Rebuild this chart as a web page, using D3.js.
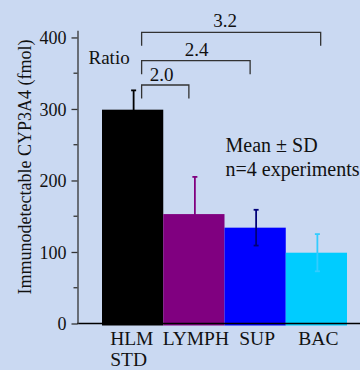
<!DOCTYPE html>
<html>
<head>
<meta charset="utf-8">
<script src="https://cdn.jsdelivr.net/npm/d3@7"></script>
<style>
  html, body { margin: 0; padding: 0; background: #cad9f2; }
  svg { display: block; }
  svg text { font-family: "Liberation Serif", "Times New Roman", serif !important; fill: #111; }
</style>
</head>
<body>
<svg id="chart" width="360" height="370" font-family="Liberation Serif"></svg>
<script>
// ---- data ----
const categories = ["HLM STD", "LYMPH", "SUP", "BAC"];
const means = [299, 153, 134, 99];
const sds = [27, 52, 25, 26];
const yTicks = [0, 100, 200, 300, 400];
const yMinorTicks = [50, 150, 250, 350];
const ratioLabels = ["2.0", "2.4", "3.2"];
const ratioTargets = ["LYMPH", "SUP", "BAC"];

// ---- styling / layout ----
const barColors = ["#000000", "#800080", "#0000ff", "#00ccff"];
const errColors = ["#000000", "#800080", "#00007a", "#33ccff"];
const SERIF = "Liberation Serif";

const svg = d3.select("#chart");
const W = 360, H = 370;

svg.append("rect").attr("width", W).attr("height", H).attr("fill", "#cad9f2");

const y = d3.scaleLinear().domain([0, 410]).range([323.5, 30.3]);
const x = d3.scaleBand().domain(categories).range([102, 347]).padding(0);

// bars
svg.selectAll("rect.bar").data(categories).join("rect")
  .attr("class", "bar")
  .attr("x", d => x(d))
  .attr("width", x.bandwidth())
  .attr("y", (d, i) => y(means[i]))
  .attr("height", (d, i) => y(0) - y(means[i]) + 2)
  .attr("fill", (d, i) => barColors[i]);

// error bars
const eg = svg.append("g");
categories.forEach((c, i) => {
  const cx = x(c) + x.bandwidth() / 2 + 1;
  const top = y(means[i] + sds[i]), bot = y(means[i] - sds[i]);
  eg.append("line").attr("x1", cx).attr("x2", cx).attr("y1", top).attr("y2", bot)
    .attr("stroke", errColors[i]).attr("stroke-width", 1.8);
  [top, bot].forEach(yy => {
    eg.append("line").attr("x1", cx - 2.5).attr("x2", cx + 2.5).attr("y1", yy).attr("y2", yy)
      .attr("stroke", errColors[i]).attr("stroke-width", 1.8);
  });
});

// baseline
svg.append("line").attr("x1", 77).attr("x2", W).attr("y1", y(0)).attr("y2", y(0))
  .attr("stroke", "#000").attr("stroke-width", 1.5);

// y axis
const axis = svg.append("g").attr("transform", "translate(77.5,0)")
  .call(d3.axisLeft(y).tickValues(yTicks).tickSize(6).tickSizeOuter(0).tickPadding(5));
axis.attr("font-family", SERIF).attr("font-size", 18);
axis.select(".domain").attr("stroke", "#333").attr("stroke-width", 1.3);
axis.selectAll(".tick line").attr("stroke", "#333").attr("stroke-width", 1.3);
axis.selectAll(".tick text")
  .attr("font-family", SERIF)
  .attr("font-size", 18).attr("fill", "#111").attr("dy", "0.34em");
svg.append("g").selectAll("line").data(yMinorTicks).join("line")
  .attr("x1", 73.5).attr("x2", 77.5).attr("y1", d => y(d)).attr("y2", d => y(d))
  .attr("stroke", "#333").attr("stroke-width", 1.3);

// y label
svg.append("text")
  .attr("transform", "translate(31,167) rotate(-90)")
  .attr("text-anchor", "middle")
  .attr("font-family", SERIF).attr("font-size", 18)
  .text("Immunodetectable CYP3A4 (fmol)");

// x labels
categories.forEach((c, i) => {
  const cx = x(c) + x.bandwidth() / 2;
  const parts = c.split(" ");
  if (parts.length > 1) {
    const t = svg.append("text").attr("font-family", SERIF).attr("font-size", 19.5).attr("text-anchor", "start");
    parts.forEach((p, k) => {
      t.append("tspan").attr("x", cx - 22.5).attr("y", 344.5 + k * 21.5).text(p);
    });
  } else {
    svg.append("text").attr("x", cx + 2).attr("y", 344.5)
      .attr("text-anchor", "middle").attr("font-family", SERIF).attr("font-size", 19.5).text(c);
  }
});

// ratio brackets
const bracketY = [85, 60.7, 32.3];
const bracketRightOffset = [-5, -5, 4.3];
const labelX = [161.7, 196.7, 225];
const labelY = [81, 55.7, 27.3];
const leftX = x(categories[0]) + x.bandwidth() / 2 + 9;
const bg = svg.append("g").attr("fill", "none").attr("stroke", "#333").attr("stroke-width", 1.3);
ratioTargets.forEach((t, i) => {
  const rx = x(t) + x.bandwidth() / 2 + bracketRightOffset[i];
  const by = bracketY[i];
  bg.append("path").attr("d", `M${leftX},${by + 13.5}V${by}H${rx}V${by + 13.5}`);
  svg.append("text").attr("x", labelX[i]).attr("y", labelY[i])
    .attr("text-anchor", "middle").attr("font-family", SERIF).attr("font-size", 19).text(ratioLabels[i]);
});

svg.append("text").attr("x", 88.5).attr("y", 63.5).attr("font-family", SERIF).attr("font-size", 19).text("Ratio");

// annotation
svg.append("text").attr("x", 225.5).attr("y", 152.3).attr("font-family", SERIF).attr("font-size", 20).text("Mean \u00b1 SD");
svg.append("text").attr("x", 225.5).attr("y", 175.7).attr("font-family", SERIF).attr("font-size", 20).text("n=4 experiments");
</script>
</body>
</html>
